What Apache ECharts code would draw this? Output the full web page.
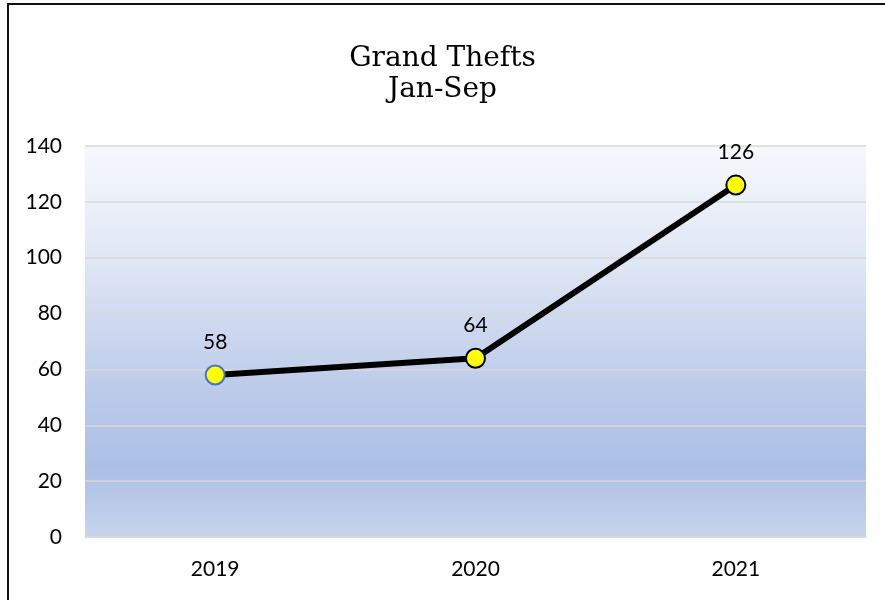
<!DOCTYPE html>
<html>
<head>
<meta charset="utf-8">
<script src="https://cdn.jsdelivr.net/npm/echarts@6/dist/echarts.min.js"></script>
<style>
html,body{margin:0;padding:0;background:#fff;}
#chart{width:885px;height:600px;}
</style>
</head>
<body>
<div id="chart"></div>
<script>
var categories = ['2019', '2020', '2021'];
var thefts = [58, 64, 126];
var titleLines = ['Grand Thefts', 'Jan-Sep'];

var chart = echarts.init(document.getElementById('chart'));
var seriesData = thefts.map(function (v, i) {
  var item = { value: v };
  if (i === 0) item.itemStyle = { borderColor: '#4472c4' };
  return item;
});
chart.setOption({
  animation: false,
  backgroundColor: '#fff',
  title: {
    text: titleLines.join('\n'),
    left: 'center',
    top: 38,
    textStyle: {
      fontFamily: 'DejaVu Serif',
      fontWeight: 'normal',
      fontSize: 28,
      lineHeight: 31,
      color: '#000'
    }
  },
  graphic: [{
    type: 'rect',
    shape: { x: 8, y: 4, width: 1200, height: 1200 },
    style: { fill: 'none', stroke: '#111', lineWidth: 2 },
    silent: true
  }],
  grid: {
    left: 85, right: 19, top: 146, bottom: 63,
    show: true,
    borderWidth: 0,
    backgroundColor: {
      type: 'linear', x: 0, y: 0, x2: 0, y2: 1,
      colorStops: [
        { offset: 0, color: '#f6f8fc' },
        { offset: 0.3, color: '#dfe6f4' },
        { offset: 0.6, color: '#bfcdea' },
        { offset: 0.82, color: '#abbfe5' },
        { offset: 1, color: '#c7d4ee' }
      ]
    }
  },
  xAxis: {
    type: 'category',
    data: categories,
    boundaryGap: true,
    axisLine: { show: true, lineStyle: { color: '#d9d9d9', width: 1.5 } },
    axisTick: { show: false },
    axisLabel: { color: '#000', fontSize: 21, fontFamily: 'Lato', margin: 22 }
  },
  yAxis: {
    type: 'value',
    min: 0, max: 140, interval: 20,
    axisLine: { show: false },
    axisTick: { show: false },
    splitLine: { lineStyle: { color: '#d9d9d9', width: 1.5 } },
    axisLabel: { color: '#000', fontSize: 21, fontFamily: 'Lato', margin: 23 }
  },
  series: [{
    type: 'line',
    data: seriesData,
    lineStyle: { color: '#000', width: 6 },
    symbol: 'circle',
    symbolSize: 19,
    itemStyle: { color: '#ffff00', borderColor: '#000', borderWidth: 2 },
    label: {
      show: true,
      position: 'top',
      distance: 12,
      color: '#000',
      fontSize: 21,
      fontFamily: 'Lato'
    },
    z: 3
  }]
});
</script>
</body>
</html>
